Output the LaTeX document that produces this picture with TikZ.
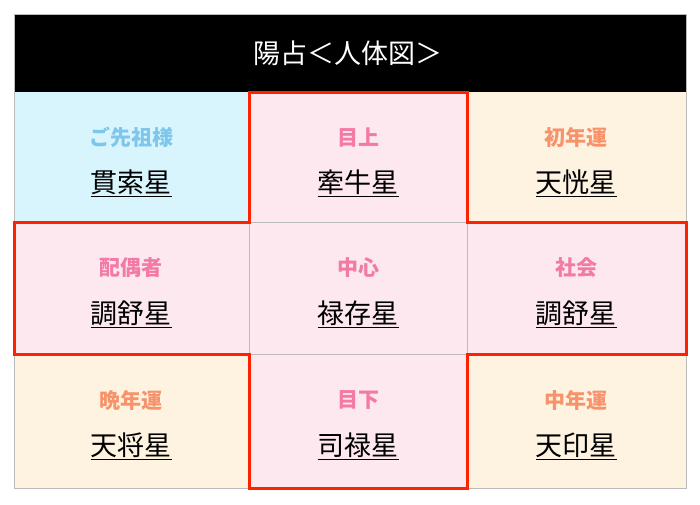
\documentclass[tikz,border=0pt]{standalone}
\usepackage{fontspec}
\setmainfont{Noto Sans CJK JP}
\definecolor{cyanbg}{HTML}{D8F4FC}
\definecolor{pinkbg}{HTML}{FDE8EF}
\definecolor{orgbg}{HTML}{FEF3E0}
\definecolor{cyanfg}{HTML}{7EC6EA}
\definecolor{pinkfg}{HTML}{F47AA6}
\definecolor{orgfg}{HTML}{F8926A}
\definecolor{gridc}{HTML}{BBBBBB}
\definecolor{redc}{HTML}{FF2200}
\newcommand{\ul}[1]{$\underline{\hbox{#1}}$}
\tikzset{
 lab/.style={font=\fontsize{21}{24}\selectfont\bfseries},
 star/.style={font=\fontsize{27}{30}\selectfont, text=black},
}
\begin{document}
\begin{tikzpicture}[x=1pt,y=-1pt]
\useasboundingbox (0,0) rectangle (700,504);
\fill[white] (0,0) rectangle (700,504);
\fill[black] (14,14) rectangle (686,92);
\fill[cyanbg] (14,92) rectangle (249,222);
\fill[pinkbg] (249,92) rectangle (467,222);
\fill[orgbg] (467,92) rectangle (686,222);
\fill[pinkbg] (14,222) rectangle (249,354);
\fill[pinkbg] (249,222) rectangle (467,354);
\fill[pinkbg] (467,222) rectangle (686,354);
\fill[orgbg] (14,354) rectangle (249,488);
\fill[pinkbg] (249,354) rectangle (467,488);
\fill[orgbg] (467,354) rectangle (686,488);
\draw[gridc,line width=1pt] (14,14) rectangle (686,488);
\draw[gridc,line width=1pt] (14,222) -- (686,222) (14,354) -- (686,354) (249,92) -- (249,488) (467,92) -- (467,488);
\draw[redc,line width=3pt,line join=miter] (249,92) -- (249,222) -- (14,222) -- (14,354) -- (249,354) -- (249,488) -- (467,488) -- (467,354) -- (686,354) -- (686,222) -- (467,222) -- (467,92) -- cycle;
\node[text=white,font=\fontsize{27}{30}\selectfont] (title) at (348,53) {陽占＜人体図＞};
\node[lab,text=cyanfg] (l11) at (131,137) {ご先祖様};
\node[star] (s11) at (131,183) {\ul{貫索星}};
\node[lab,text=pinkfg] (l12) at (358,137) {目上};
\node[star] (s12) at (358,183) {\ul{牽牛星}};
\node[lab,text=orgfg] (l13) at (576,137) {初年運};
\node[star] (s13) at (576,183) {\ul{天恍星}};
\node[lab,text=pinkfg] (l21) at (131,268) {配偶者};
\node[star] (s21) at (131,314) {\ul{調舒星}};
\node[lab,text=pinkfg] (l22) at (358,268) {中心};
\node[star] (s22) at (358,314) {\ul{禄存星}};
\node[lab,text=pinkfg] (l23) at (576,268) {社会};
\node[star] (s23) at (576,314) {\ul{調舒星}};
\node[lab,text=orgfg] (l31) at (131,400) {晩年運};
\node[star] (s31) at (131,446) {\ul{天将星}};
\node[lab,text=pinkfg] (l32) at (358,400) {目下};
\node[star] (s32) at (358,446) {\ul{司禄星}};
\node[lab,text=orgfg] (l33) at (576,400) {中年運};
\node[star] (s33) at (576,446) {\ul{天印星}};
\end{tikzpicture}
\end{document}
